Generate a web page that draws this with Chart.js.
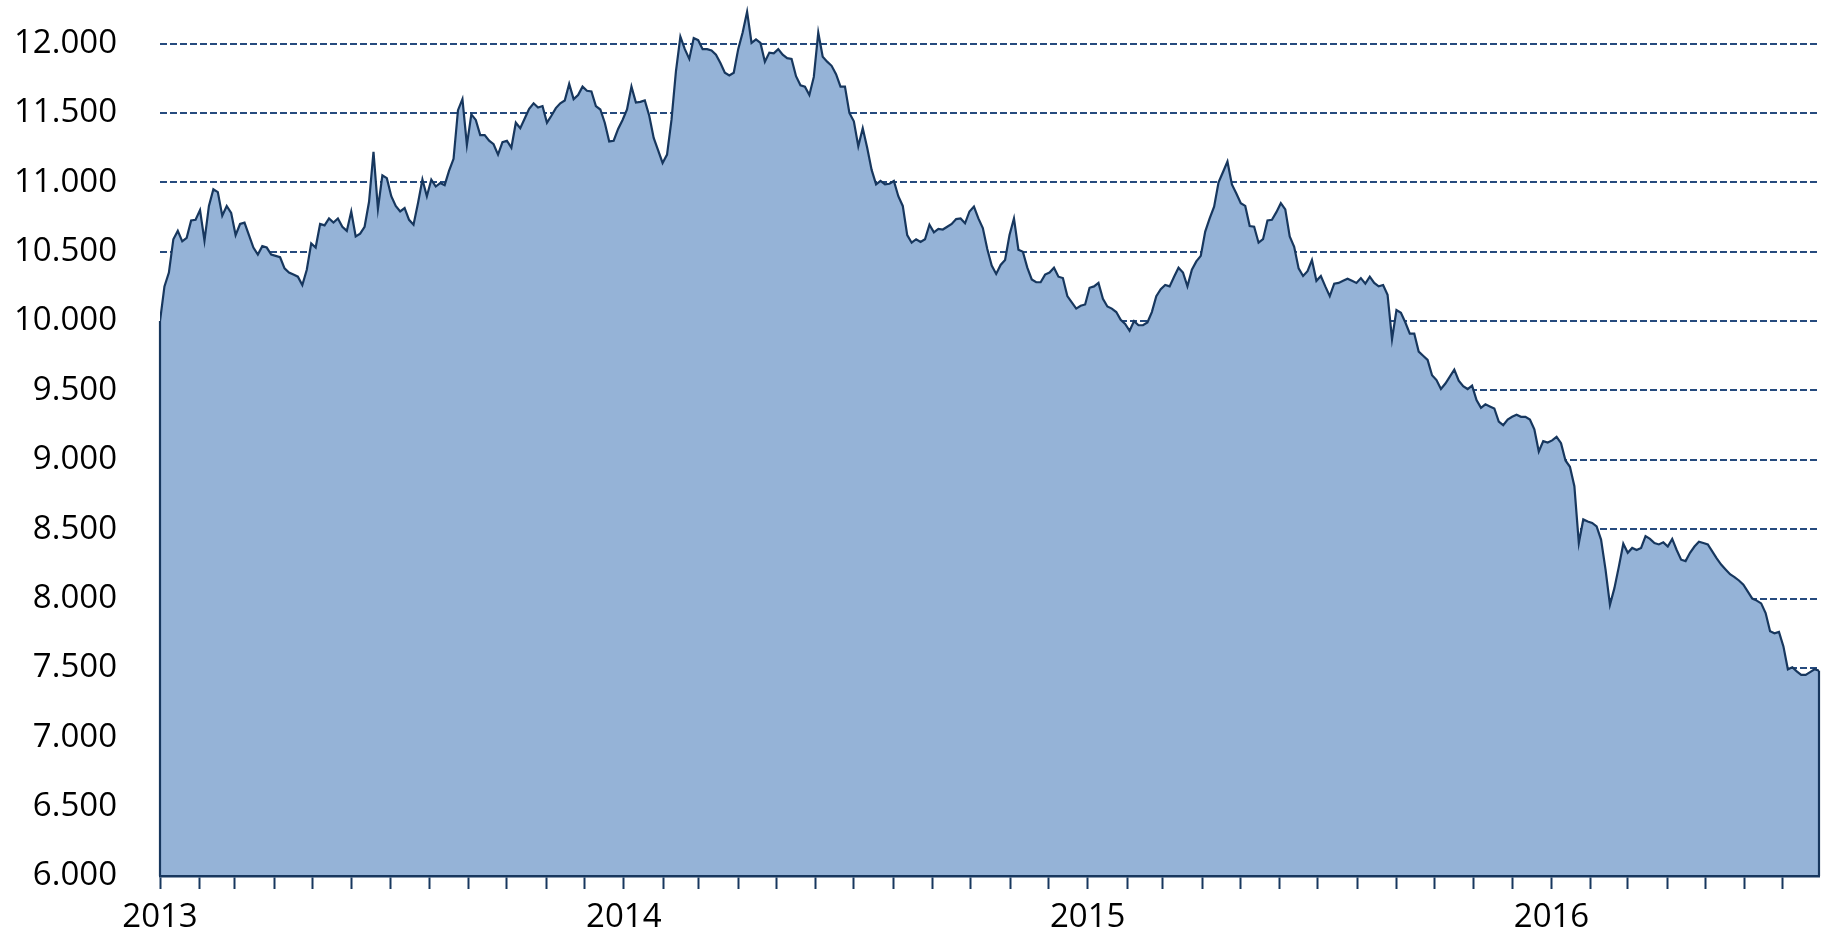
<!DOCTYPE html>
<html>
<head>
<meta charset="utf-8">
<script src="https://cdn.jsdelivr.net/npm/chart.js@4/dist/chart.umd.min.js"></script>
<style>
  html, body { margin: 0; padding: 0; background: #fff; }
  #wrap { width: 1825px; height: 931px; }
</style>
</head>
<body>
<div id="wrap"><canvas id="myChart"></canvas></div>
<script>
// index level, read twice a week (every 3.5 days) starting 2013-01-01
var startDate = "2013-01-01";
var stepDays = 3.5;
var values = [
  10000, 10250, 10350, 10590, 10650, 10575, 10600, 10725, 10730, 10800,
  10580, 10830, 10950, 10930, 10760, 10830, 10780, 10620, 10700, 10710,
  10620, 10530, 10480, 10540, 10530, 10480, 10470, 10460, 10380, 10350,
  10335, 10320, 10260, 10370, 10560, 10530, 10700, 10690, 10740, 10710,
  10740, 10680, 10650, 10790, 10610, 10630, 10680, 10860, 11220, 10810,
  11050, 11030, 10900, 10830, 10790, 10815, 10730, 10695, 10850, 11020,
  10900, 11020, 10970, 10995, 10980, 11085, 11170, 11520, 11600, 11270,
  11490, 11450, 11340, 11340, 11300, 11275, 11200, 11290, 11300, 11250,
  11430, 11390, 11460, 11530, 11570, 11540, 11550, 11430, 11480, 11535,
  11570, 11590, 11710, 11600, 11630, 11690, 11660, 11655, 11550, 11525,
  11430, 11295, 11300, 11385, 11450, 11525, 11690, 11575, 11580, 11590,
  11480, 11320, 11230, 11140, 11200, 11450, 11800, 12050, 11960, 11890,
  12040, 12025, 11960, 11960, 11950, 11920, 11860, 11790, 11770, 11790,
  11960, 12080, 12230, 12005, 12030, 12005, 11870, 11935, 11930, 11960,
  11920, 11895, 11890, 11765, 11700, 11690, 11630, 11760, 12080, 11905,
  11870, 11840, 11780, 11690, 11690, 11500, 11440, 11260, 11390, 11250,
  11090, 10985, 11010, 10985, 10990, 11010, 10900, 10830, 10620, 10565,
  10590, 10570, 10590, 10695, 10640, 10665, 10660, 10680, 10700, 10735,
  10740, 10705, 10790, 10825, 10740, 10670, 10520, 10400, 10340, 10405,
  10440, 10620, 10740, 10515, 10500, 10385, 10300, 10280, 10280, 10335,
  10350, 10385, 10320, 10310, 10180, 10135, 10090, 10110, 10120, 10240,
  10250, 10275, 10160, 10105, 10090, 10065, 10010, 9980, 9930, 10000,
  9970, 9970, 9990, 10065, 10180, 10230, 10260, 10250, 10320, 10385,
  10350, 10250, 10370, 10430, 10470, 10645, 10740, 10825, 11000, 11075,
  11150, 10985, 10920, 10850, 10830, 10685, 10680, 10565, 10590, 10725,
  10730, 10785, 10850, 10805, 10610, 10535, 10380, 10325, 10360, 10440,
  10290, 10325, 10250, 10180, 10270, 10275, 10290, 10305, 10290, 10275,
  10310, 10270, 10320, 10275, 10250, 10260, 10190, 9870, 10080, 10060,
  9990, 9910, 9910, 9780, 9750, 9720, 9610, 9575, 9510, 9550,
  9600, 9650, 9570, 9530, 9510, 9535, 9430, 9375, 9400, 9385,
  9370, 9275, 9250, 9290, 9310, 9325, 9310, 9310, 9290, 9220,
  9060, 9135, 9125, 9140, 9165, 9120, 8995, 8950, 8810, 8400,
  8570, 8555, 8545, 8520, 8425, 8210, 7955, 8075, 8230, 8395,
  8330, 8365, 8350, 8365, 8450, 8430, 8400, 8390, 8405, 8375,
  8430, 8350, 8280, 8270, 8330, 8375, 8410, 8400, 8390, 8340,
  8290, 8245, 8210, 8175, 8155, 8130, 8100, 8050, 8000, 7985,
  7965, 7895, 7765, 7750, 7760, 7655, 7490, 7505, 7475, 7450,
  7450, 7470, 7490, 7480
];
var yearLabels = ["2013", "2014", "2015", "2016"];
var yTicks = [6000, 6500, 7000, 7500, 8000, 8500, 9000, 9500, 10000, 10500, 11000, 11500, 12000];

var DAY = 86400000;
var t0 = Date.parse(startDate);
var points = values.map(function (v, i) { return { x: i * stepDays, y: v }; });
var lastDay = points[points.length - 1].x;

// month ticks, labels only on january
var monthTicks = [];
var yearAt = {};
yearLabels.forEach(function (y) {
  for (var m = 0; m < 12; m++) {
    var d = Math.round((Date.UTC(+y, m, 1) - t0) / DAY);
    if (d <= lastDay) monthTicks.push(d);
    if (m === 0) yearAt[d] = y;
  }
});

var navy = "#17375E";

// closes the area on both sides like the original outline
var areaEdges = {
  id: "areaEdges",
  afterDatasetsDraw: function (chart) {
    var els = chart.getDatasetMeta(0).data;
    var bottom = chart.chartArea.bottom;
    var ctx = chart.ctx;
    ctx.save();
    ctx.strokeStyle = navy;
    ctx.lineWidth = 2.2;
    [els[0], els[els.length - 1]].forEach(function (p) {
      ctx.beginPath();
      ctx.moveTo(p.x, p.y);
      ctx.lineTo(p.x, bottom);
      ctx.stroke();
    });
    ctx.restore();
  }
};

new Chart("myChart", {
  type: "line",
  data: {
    datasets: [{
      data: points,
      borderColor: navy,
      borderWidth: 2.2,
      backgroundColor: "#95B3D7",
      fill: "start",
      pointRadius: 0,
      tension: 0
    }]
  },
  options: {
    responsive: true,
    maintainAspectRatio: false,
    animation: false,
    layout: { padding: { left: 0, top: 2, right: 6, bottom: 0 } },
    plugins: { legend: { display: false }, tooltip: { enabled: false } },
    scales: {
      x: {
        type: "linear",
        min: 0,
        max: lastDay,
        afterBuildTicks: function (s) { s.ticks = monthTicks.map(function (d) { return { value: d }; }); },
        afterFit: function (s) { s.height = 55; s.paddingLeft = 0; s.paddingRight = 0; },
        ticks: {
          autoSkip: false,
          maxRotation: 0,
          padding: 9,
          color: "#000",
          font: { family: "Open Sans", size: 33 },
          callback: function (v) { return yearAt[v] || ""; }
        },
        grid: {
          drawOnChartArea: false,
          drawTicks: true,
          tickLength: 13,
          tickWidth: 2,
          tickColor: navy
        },
        border: { color: navy, width: 2.5, z: 1 }
      },
      y: {
        min: 6000,
        max: 12300,
        afterBuildTicks: function (s) { s.ticks = yTicks.map(function (v) { return { value: v }; }); },
        afterFit: function (s) { s.width = 160; s.paddingTop = 0; s.paddingBottom = 0; },
        ticks: {
          padding: 43,
          color: "#000",
          font: { family: "Open Sans", size: 33 },
          callback: function (v) { return String(v).replace(/\B(?=(\d{3})+(?!\d))/g, "."); }
        },
        grid: {
          drawTicks: false,
          color: "#264B7E",
          lineWidth: 2
        },
        border: { display: false, dash: [7, 3] }
      }
    }
  },
  plugins: [areaEdges]
});
</script>
</body>
</html>
